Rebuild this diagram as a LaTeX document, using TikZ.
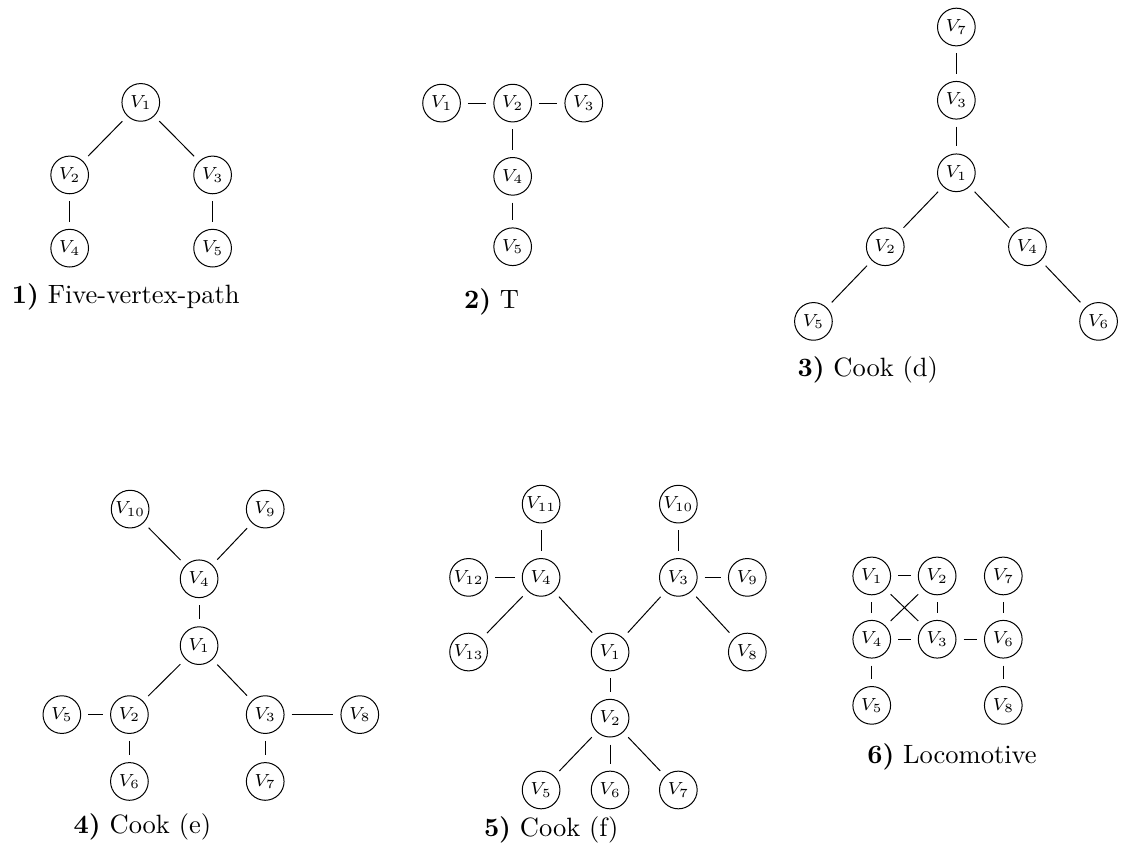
\documentclass[tikz,border=0pt]{standalone}
\usepackage{amsmath,amssymb}
\usepackage{tikz}
\usetikzlibrary{positioning}
\tikzset{
	vtx/.style={circle, draw, inner sep=0pt, minimum size=5.3mm, outer sep=3pt, font=\scriptsize},
	gcaption/.style={anchor=base west, inner sep=0pt, font=\fontsize{10.6pt}{12.7pt}\selectfont}
}

\begin{document}
\begin{tikzpicture}
			\useasboundingbox (0,0) rectangle (15.85,-11.885);
			% 1) Five-vertex-path
			\node[vtx] (a1) at (1.98,-1.44) {$V_1$};
			\node[vtx] (a2) at (0.98,-2.46) {$V_2$};
			\node[vtx] (a3) at (2.99,-2.46) {$V_3$};
			\node[vtx] (a4) at (0.98,-3.49) {$V_4$};
			\node[vtx] (a5) at (2.99,-3.49) {$V_5$};
			\node[gcaption] (capA) at (0.16,-4.27) {\textbf{1)} Five-vertex-path};
			\foreach \u/\v in {a1/a2,a1/a3,a2/a4,a3/a5}
				\draw (\u) -- (\v);
			% 2) T
			\node[vtx] (b1) at (6.21,-1.45) {$V_1$};
			\node[vtx] (b2) at (7.21,-1.45) {$V_2$};
			\node[vtx] (b3) at (8.21,-1.45) {$V_3$};
			\node[vtx] (b4) at (7.21,-2.48) {$V_4$};
			\node[vtx] (b5) at (7.21,-3.47) {$V_5$};
			\node[gcaption] (capB) at (6.52,-4.34) {\textbf{2)} T};
			\foreach \u/\v in {b1/b2,b2/b3,b2/b4,b4/b5}
				\draw (\u) -- (\v);
			% 3) Cook (d)
			\node[vtx] (c7) at (13.45,-0.38) {$V_7$};
			\node[vtx] (c3) at (13.45,-1.41) {$V_3$};
			\node[vtx] (c1) at (13.45,-2.43) {$V_1$};
			\node[vtx] (c2) at (12.45,-3.47) {$V_2$};
			\node[vtx] (c4) at (14.45,-3.47) {$V_4$};
			\node[vtx] (c5) at (11.44,-4.52) {$V_5$};
			\node[vtx] (c6) at (15.45,-4.52) {$V_6$};
			\node[gcaption] (capC) at (11.21,-5.30) {\textbf{3)} Cook (d)};
			\foreach \u/\v in {c7/c3,c3/c1,c1/c2,c1/c4,c2/c5,c4/c6}
				\draw (\u) -- (\v);
			% 4) Cook (e)
			\node[vtx] (d10) at (1.83,-7.16) {$V_{10}$};
			\node[vtx] (d9) at (3.73,-7.16) {$V_9$};
			\node[vtx] (d4) at (2.80,-8.14) {$V_4$};
			\node[vtx] (d1) at (2.80,-9.08) {$V_1$};
			\node[vtx] (d5) at (0.87,-10.05) {$V_5$};
			\node[vtx] (d2) at (1.82,-10.05) {$V_2$};
			\node[vtx] (d3) at (3.73,-10.05) {$V_3$};
			\node[vtx] (d8) at (5.06,-10.05) {$V_8$};
			\node[vtx] (d6) at (1.82,-10.99) {$V_6$};
			\node[vtx] (d7) at (3.73,-10.99) {$V_7$};
			\node[gcaption] (capD) at (1.03,-11.72) {\textbf{4)} Cook (e)};
			\foreach \u/\v in {d10/d4,d9/d4,d4/d1,d1/d2,d1/d3,d5/d2,d2/d6,d3/d8,d3/d7}
				\draw (\u) -- (\v);
			% 5) Cook (f)
			\node[vtx] (e11) at (7.61,-7.09) {$V_{11}$};
			\node[vtx] (e10) at (9.54,-7.09) {$V_{10}$};
			\node[vtx] (e12) at (6.59,-8.12) {$V_{12}$};
			\node[vtx] (e4) at (7.61,-8.12) {$V_4$};
			\node[vtx] (e3) at (9.54,-8.12) {$V_3$};
			\node[vtx] (e9) at (10.51,-8.12) {$V_9$};
			\node[vtx] (e13) at (6.59,-9.17) {$V_{13}$};
			\node[vtx] (e1) at (8.58,-9.17) {$V_1$};
			\node[vtx] (e8) at (10.51,-9.17) {$V_8$};
			\node[vtx] (e2) at (8.58,-10.10) {$V_2$};
			\node[vtx] (e5) at (7.61,-11.11) {$V_5$};
			\node[vtx] (e6) at (8.58,-11.11) {$V_6$};
			\node[vtx] (e7) at (9.54,-11.11) {$V_7$};
			\node[gcaption] (capE) at (6.80,-11.77) {\textbf{5)} Cook (f)};
			\foreach \u/\v in {e11/e4,e12/e4,e4/e13,e4/e1,e10/e3,e3/e9,e3/e8,e3/e1,e1/e2,e2/e5,e2/e6,e2/e7}
				\draw (\u) -- (\v);
			% 6) Locomotive
			\node[vtx] (f1) at (12.26,-8.10) {$V_1$};
			\node[vtx] (f2) at (13.18,-8.10) {$V_2$};
			\node[vtx] (f7) at (14.11,-8.10) {$V_7$};
			\node[vtx] (f4) at (12.26,-8.99) {$V_4$};
			\node[vtx] (f3) at (13.18,-8.99) {$V_3$};
			\node[vtx] (f6) at (14.11,-8.99) {$V_6$};
			\node[vtx] (f5) at (12.26,-9.92) {$V_5$};
			\node[vtx] (f8) at (14.11,-9.92) {$V_8$};
			\node[gcaption] (capF) at (12.19,-10.74) {\textbf{6)} Locomotive};
			\foreach \u/\v in {f1/f2,f1/f4,f2/f3,f1/f3,f2/f4,f4/f3,f3/f6,f7/f6,f4/f5,f6/f8}
				\draw (\u) -- (\v);
		\end{tikzpicture}
\end{document}
